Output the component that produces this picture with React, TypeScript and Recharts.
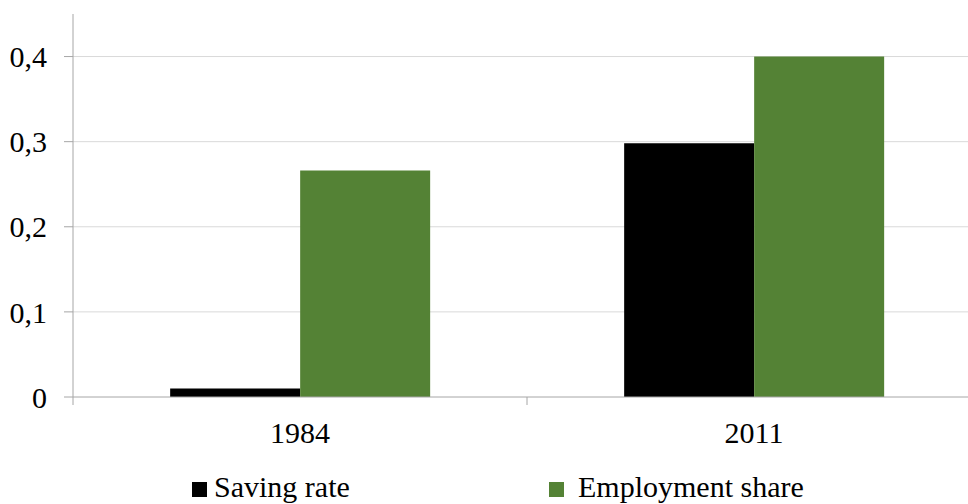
import { BarChart, Bar, XAxis, YAxis, CartesianGrid, Legend } from 'recharts';

const years = ['1984', '2011'];
const savingRate = [0.01, 0.298];
const employmentShare = [0.266, 0.4];
const yTicks = [0, 0.1, 0.2, 0.3, 0.4];
const seriesNames = ['Saving rate', 'Employment share'];

const data = years.map((year, i) => ({
  year,
  saving: savingRate[i],
  employment: employmentShare[i],
}));

const FONT = '"Liberation Serif", serif';
const FONT_SIZE = 30;
const AXIS_GREY = '#a6a6a6';

// category label centred in the band, tick mark on the band's left edge
function CategoryTick(props: any) {
  const { x, y, payload } = props;
  const half = payload.offset ?? 227;
  return (
    <g>
      <line x1={x - half} x2={x - half} y1={y} y2={y + 8} stroke={AXIS_GREY} />
      <text x={x} y={y + 46} textAnchor="middle" fontFamily={FONT} fontSize={FONT_SIZE} fill="#000">
        {payload.value}
      </text>
    </g>
  );
}

// swatch and label left edges for each legend entry
const swatchX = [192, 549];
const labelX = [214, 578];

function LegendBoxes({ payload }: any) {
  const entries = seriesNames
    .map((name) => (payload || []).find((p: any) => p.value === name))
    .filter(Boolean);
  return (
    <svg width={968} height={40} style={{ display: 'block' }}>
      {entries.map((entry: any, i: number) => (
        <g key={entry.value}>
          <rect x={swatchX[i]} y={18} width={15} height={15} fill={entry.color} />
          <text x={labelX[i]} y={33} fontFamily={FONT} fontSize={FONT_SIZE} fill="#000">
            {entry.value}
          </text>
        </g>
      ))}
    </svg>
  );
}

export default function App() {
  return (
    <div style={{ width: 968, height: 504, overflow: 'hidden', background: '#fff' }}>
      <style>{'body{margin:0}'}</style>
      <BarChart
        width={981}
        height={504}
        data={data}
        margin={{ top: 14, right: 0, bottom: 0, left: 0 }}
        barCategoryGap="21.4%"
        barGap={0}
      >
        <CartesianGrid vertical={false} stroke="#d9d9d9" horizontalValues={yTicks.slice(1)} />
        <XAxis
          dataKey="year"
          height={67}
          tickSize={0}
          tickMargin={0}
          tickLine={false}
          axisLine={{ stroke: AXIS_GREY }}
          tick={<CategoryTick />}
          interval={0}
        />
        <YAxis
          width={73}
          domain={[0, 0.45]}
          ticks={yTicks}
          tickSize={9}
          tickMargin={17}
          axisLine={{ stroke: AXIS_GREY }}
          tickLine={{ stroke: AXIS_GREY }}
          tick={{ fontFamily: FONT, fontSize: FONT_SIZE, fill: '#000' }}
          tickFormatter={(v: number) => String(v).replace('.', ',')}
        />
        <Legend
          verticalAlign="bottom"
          height={40}
          wrapperStyle={{ left: 0, bottom: 0, width: 968 }}
          content={<LegendBoxes />}
        />
        <Bar dataKey="saving" name={seriesNames[0]} fill="#000000" isAnimationActive={false} />
        <Bar dataKey="employment" name={seriesNames[1]} fill="#548235" isAnimationActive={false} />
      </BarChart>
    </div>
  );
}
